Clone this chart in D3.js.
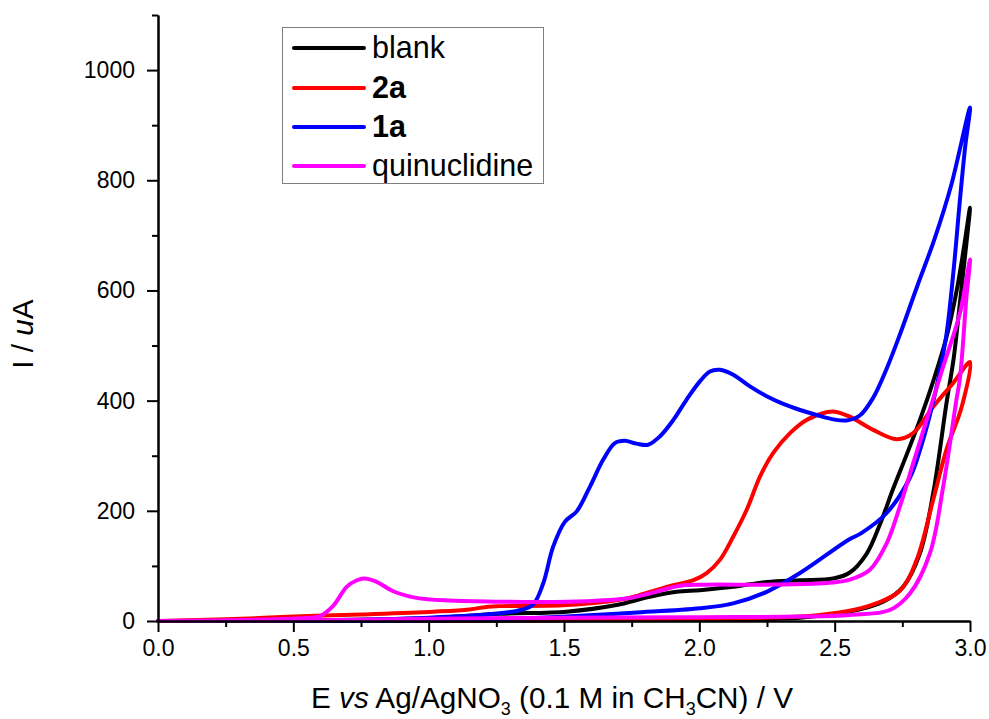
<!DOCTYPE html>
<html><head><meta charset="utf-8">
<script src="https://cdn.jsdelivr.net/npm/d3@7"></script>
<style>
body{margin:0;background:#fff;}
svg{display:block;font-family:"Liberation Sans",Arial,sans-serif;}
</style></head>
<body><svg id="c" width="989" height="719"></svg>
<script>
// ---- data: [E (V), I (uA)], forward scan then reverse scan ----
const blank = [[0,0],[0.5,1],[1.0,5],[1.263,13],[1.51,17],[1.694,29],[1.817,44],[1.916,53],[2.002,56],[2.125,62],[2.249,71],[2.372,74],[2.495,77],[2.556,88],[2.618,122],[2.667,175],[2.716,240],[2.766,302],[2.815,365],[2.864,435],[2.913,515],[2.95,598],[2.975,670],[3.0,750],
  [2.98,655],[2.96,565],[2.94,478],[2.913,395],[2.864,232],[2.815,123],[2.753,62],[2.679,35],[2.556,17],[2.372,6],[2.0,2],[1.5,1],[1.0,0],[0,0]];
const s2a = [[0,0],[0.25,3],[0.5,8],[0.75,12],[1.017,17],[1.15,21],[1.22,26],[1.263,27],[1.51,29],[1.731,41],[1.817,53],[1.904,65],[1.978,74],[2.027,87],[2.076,111],[2.125,153],[2.175,202],[2.224,262],[2.273,305],[2.335,341],[2.396,365],[2.47,379],[2.5,380],[2.556,371],[2.642,347],[2.729,330],[2.79,341],[2.864,389],[2.938,432],[3.0,470],
  [2.97,390],[2.913,311],[2.864,220],[2.803,111],[2.741,55],[2.618,26],[2.495,14],[2.372,8],[2.0,4],[1.5,2],[1.0,1],[0,0]];
const s1a = [[0,0],[0.6,1],[1.0,6],[1.263,14],[1.34,20],[1.386,30],[1.423,68],[1.46,135],[1.503,180],[1.547,199],[1.596,244],[1.645,293],[1.688,323],[1.725,327],[1.768,322],[1.811,320],[1.854,335],[1.904,365],[1.953,402],[2.002,435],[2.039,453],[2.076,456],[2.125,447],[2.187,426],[2.249,408],[2.31,394],[2.372,383],[2.433,374],[2.495,366],[2.544,364],[2.593,373],[2.642,405],[2.692,458],[2.741,520],[2.803,605],[2.87,695],[2.93,790],[3.0,932],
  [2.982,860],[2.962,760],[2.94,640],[2.913,520],[2.885,445],[2.86,390],[2.82,318],[2.778,260],[2.692,196],[2.6,160],[2.55,147],[2.372,87],[2.249,53],[2.125,32],[2.002,23],[1.756,15],[1.51,8],[1.263,3],[1.0,1],[0.5,0],[0,0]];
const quin = [[0,0],[0.525,5],[0.598,9],[0.648,28],[0.697,62],[0.735,74],[0.762,77],[0.808,71],[0.869,54],[0.955,42],[1.079,37],[1.263,35],[1.51,35],[1.731,41],[1.817,50],[1.928,64],[2.027,66],[2.249,66],[2.495,70],[2.556,75],[2.63,93],[2.692,141],[2.741,208],[2.79,286],[2.84,365],[2.901,462],[2.963,559],[3.0,656],
  [2.987,589],[2.963,441],[2.95,402],[2.901,244],[2.852,123],[2.778,50],[2.704,20],[2.556,11],[2.372,8],[2.0,7],[1.5,6],[1.0,4],[0.5,1],[0,0]];

const seriesNames = ["blank","2a","1a","quinuclidine"];
const seriesColors = ["#000000","#ff0000","#0000ff","#ff00ff"];
const seriesBold = [false,true,true,false];
const seriesData = [blank,s2a,s1a,quin];

const xTicks = [0,0.5,1.0,1.5,2.0,2.5,3.0];
const xMinor = [0.25,0.75,1.25,1.75,2.25,2.75];
const yTicks = [0,200,400,600,800,1000];
const yMinor = [100,300,500,700,900,1100];

const svg = d3.select("#c");
const x = d3.scaleLinear().domain([0,3]).range([158,970]);
const y = d3.scaleLinear().domain([0,1100]).range([621,15]);

const line = d3.line().x(d=>x(d[0])).y(d=>y(d[1])).curve(d3.curveCatmullRom.alpha(0.5));

const plot = svg.append("g");
seriesData.forEach((d,i)=>{
  plot.append("path").attr("d",line(d)).attr("fill","none")
    .attr("stroke",seriesColors[i]).attr("stroke-width",4)
    .attr("stroke-linejoin","round").attr("stroke-linecap","round");
});

// axes
const xAxis = svg.append("g").attr("transform","translate(0,621)")
  .call(d3.axisBottom(x).tickValues(xTicks).tickFormat(d3.format(".1f")).tickSize(11).tickPadding(8).tickSizeOuter(0));
const xAxisMin = svg.append("g").attr("transform","translate(0,621)")
  .call(d3.axisBottom(x).tickValues(xMinor).tickFormat("").tickSize(6).tickSizeOuter(0));
const yAxis = svg.append("g").attr("transform","translate(158,0)")
  .call(d3.axisLeft(y).tickValues(yTicks).tickFormat(d3.format("d")).tickSize(11).tickPadding(12).tickSizeOuter(0));
const yAxisMin = svg.append("g").attr("transform","translate(158,0)")
  .call(d3.axisLeft(y).tickValues(yMinor).tickFormat("").tickSize(6).tickSizeOuter(0));
[xAxis,xAxisMin,yAxis,yAxisMin].forEach(g=>{
  g.selectAll("path").attr("stroke","#000").attr("stroke-width",2);
  g.selectAll("line").attr("stroke","#000").attr("stroke-width",2);
  g.selectAll("text").attr("font-size",23).attr("fill","#000").attr("font-family","Liberation Sans, Arial, sans-serif");
});

// axis titles
const xt = svg.append("text").attr("x",552).attr("y",708).attr("text-anchor","middle")
  .attr("font-size",29.7).attr("fill","#000");
xt.append("tspan").text("E ");
xt.append("tspan").attr("font-style","italic").text("vs");
xt.append("tspan").text(" Ag/AgNO");
xt.append("tspan").attr("font-size",18).attr("dy",7).text("3");
xt.append("tspan").attr("dy",-7).text(" (0.1 M in CH");
xt.append("tspan").attr("font-size",18).attr("dy",7).text("3");
xt.append("tspan").attr("dy",-7).text("CN) / V");

const yt = svg.append("text").attr("transform","translate(33,334) rotate(-90)")
  .attr("text-anchor","middle").attr("font-size",29.7).attr("fill","#000");
yt.append("tspan").text("I / ");
yt.append("tspan").attr("font-style","italic").text("u");
yt.append("tspan").text("A");

// legend
const lg = svg.append("g");
lg.append("rect").attr("x",282.5).attr("y",27.5).attr("width",261).attr("height",156)
  .attr("fill","#fff").attr("stroke","#7f7f7f").attr("stroke-width",1);
const rowY = [48,88,127,166];
seriesNames.forEach((n,i)=>{
  lg.append("line").attr("x1",294).attr("x2",364).attr("y1",rowY[i]).attr("y2",rowY[i])
    .attr("stroke",seriesColors[i]).attr("stroke-width",4).attr("stroke-linecap","round");
  lg.append("text").attr("x",372).attr("y",rowY[i]+10).attr("font-size",30.5)
    .attr("font-weight",seriesBold[i]?"bold":"normal").attr("fill","#000").text(n);
});
</script></body></html>
